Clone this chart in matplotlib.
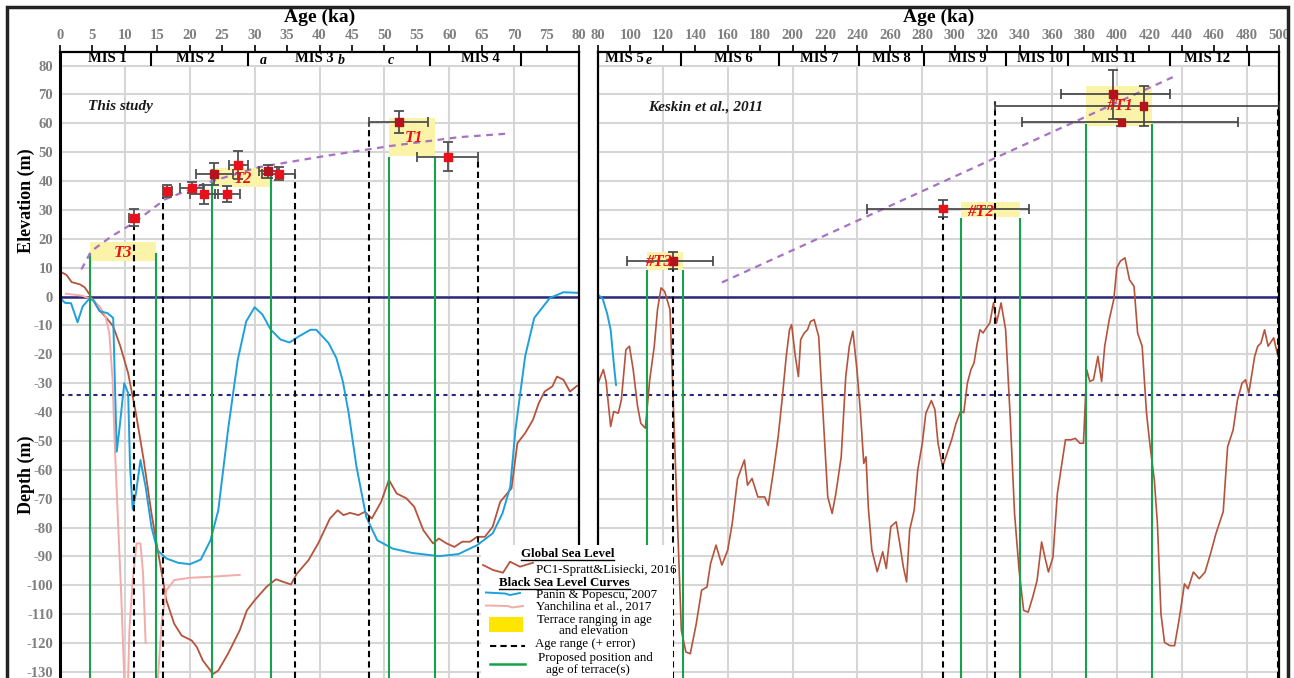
import numpy as np
import matplotlib
matplotlib.use("Agg")
import matplotlib.pyplot as plt
from matplotlib.patches import Rectangle

plt.rcParams['font.family'] = ['Liberation Serif', 'DejaVu Serif']

nan = np.nan

# ---- global sea level (PC1 Spratt & Lisiecki 2016) ----
brown_left_age = [0, 1.0, 1.8, 3.1, 3.8, 4.6, 5.8, 7.3, 8.2, 9.3, 10.5, 11.7, 12.9, 14.1, 15.25,
                  16.4, 17.6, 18.75, 20.3, 21.1, 22.0, 23.6, 24.4, 25.9, 27.7, 28.8, 30.0, 31.8,
                  33.3, 34.4, 35.6, 36.5, 38.3, 39.8, 41.6, 42.8, 43.7, 44.7, 46.0, 47.0, 48.05,
                  49.5, 50.7, 51.9, 53.4, 54.6, 56.0, 57.5, 58.4, 59.6, 60.8, 62.0, 63.2, 64.3,
                  65.5, 66.7, 67.85, 69.6, 70.5, 71.7, 72.9, 73.8, 74.7, 75.9, 76.6, 77.6, 78.6, 79.7]
brown_left_m = [8.7, 7.5, 5.0, 4.2, 3.2, 0.6, -3.9, -7.8, -10.3, -17.2, -26.5, -40.4, -56.6, -75.1,
                -90.2, -105.2, -113.3, -117.4, -119.1, -121.4, -126, -130.7, -129.5, -123.7, -115.6,
                -108.7, -105.2, -100.6, -97.9, -98.8, -99.7, -96, -91.3, -85.5, -76.9, -74, -75.7,
                -74.9, -75.7, -74.5, -76.9, -71.1, -63.5, -68.2, -69.9, -72.8, -80.9, -85.5, -83.8,
                -85.5, -86.7, -84.9, -84.9, -83.2, -83.2, -79.7, -71.1, -66.4, -50.8, -47.3, -42.7,
                -36.9, -32.9, -31.1, -27.7, -28.8, -32.9, -30.9]

brown_right_age = [80, 83.3, 85, 87.8, 89.7, 92.5, 94.4, 97.2, 99.4, 101.7, 104.4, 106.4, 109.2,
                   111.9, 114.7, 116.7, 118.9, 121.1, 124.4, 127.2, 129.2, 131.4, 134.2, 136.9,
                   140.6, 143.9, 147.2, 149.4, 152.8, 156.4, 160, 162.8, 166.1, 170.3, 172.2, 175,
                   178.6, 182.8, 185, 188.3, 191.1, 193.3, 196.1, 198.1, 199.4, 201.7, 203.6, 205,
                   207.2, 209.2, 211.1, 213.3, 216.1, 218.9, 221.7, 224.4, 226.7, 230, 232.8, 235,
                   237.2, 239.7, 241.9, 243.9, 245.3, 246.7, 248.9, 252.2, 255.6, 257.8, 260.6,
                   263.9, 266.1, 268.3, 270.3, 272.2, 275, 277.2, 280, 282.2, 285.6, 287.8, 289.7,
                   292.5, 295.3, 298.1, 300.8, 303.6, 305.6, 307.8, 310, 311.9, 313.9, 315.6, 317.5,
                   319.4, 321.7, 323.9, 325.8, 328.6, 331.4, 334.2, 336.9, 339.7, 342.5, 345.3,
                   348.1, 350.8, 353.6, 355.6, 357.8, 360.6, 363.3, 366.1, 368.3, 371.7, 374.4,
                   377.2, 379.4, 381.4, 383.3, 385.6, 388.3, 390.6, 392.5, 395.3, 398.1, 400,
                   402.2, 405, 407.8, 410.6, 412.8, 415.6, 418.3, 420.3, 423.1, 425, 427.2, 429.4,
                   432.8, 435.6, 438.3, 441.7, 443.9, 447.2, 450.8, 454.4, 457.8, 461.1, 465.6,
                   468.3, 471.7, 474.4, 477.2, 479.4, 481.4, 485, 486.9, 488.9, 491.1, 493.3,
                   496.7, 499.4]
brown_right_m = [-30, -25.3, -29.4, -45, -39.8, -40.4, -35.8, -18.4, -17.2, -25.3, -38, -43.9,
                 -45.6, -28.8, -17.2, -4.5, 3, 1.8, -4.5, -49.6, -81, -115.6, -123.1, -123.7,
                 -113.3, -101.7, -100.6, -92.5, -86.1, -93, -87.8, -78.5, -63, -56.6, -65.3, -63,
                 -69.4, -69.4, -72.3, -60.1, -48.6, -37, -20.7, -11.5, -9.7, -20.7, -27.7, -14.9,
                 -12.6, -11.5, -8.6, -8, -13.8, -41.6, -69.4, -75.1, -68.2, -55.5, -27.7, -17.2,
                 -12, -25.3, -40.4, -57.8, -55.5, -72.9, -87.8, -95.3, -88.4, -94.2, -79.7, -78,
                 -85.5, -93.6, -98.8, -80.9, -74, -60.1, -50.8, -40.4, -36, -39.2, -50.8, -58.9,
                 -54.3, -49.6, -43.9, -39.8, -40.2, -30, -25.3, -23, -16.1, -11.5, -12.6, -10.9,
                 -9.1, -2.2, -9.1, -2.2, -11.5, -41.6, -75.1, -94.8, -108.7, -109.3, -104.1, -98.3,
                 -85, -90.2, -95.4, -90.2, -68.2, -57.8, -49.6, -49.6, -49.1, -50.8, -50.8, -25.3,
                 -29.4, -28.8, -20.7, -29.4, -17.2, -8, -1, 10, 12.3, 13.4, 5.8, 3.5, -12.6, -17.2,
                 -40.4, -50.8, -63.5, -78.5, -109.9, -119.8, -120.9, -120.9, -112.2, -99.5, -101.2,
                 -95.4, -97.7, -95.4, -89, -82.1, -74.5, -52, -46.2, -35.8, -30, -28.8, -33.4,
                 -20.7, -17.2, -16.1, -11.5, -17.2, -14.3, -20.7]

# ---- Black Sea curves ----
blue_left_age = [0, 0.8, 1.7, 2.7, 3.5, 4.5, 5.2, 6.1, 7.3, 8.2, 8.45, 8.75, 9.2, 9.9, 10.5, 10.8,
                 11.2, 11.7, 12.4, 13.2, 14.1, 15.0, 16.4, 18.2, 20.0, 21.7, 23.2, 24.4, 25.9, 27.4,
                 28.7, 30.0, 31.2, 32.5, 34.0, 35.4, 36.8, 38.6, 39.5, 41.4, 42.6, 43.6, 44.5, 45.7,
                 47.2, 48.9, 51.3, 54.3, 58.4, 61.4, 64.3, 66.7, 68.2, 69.4, 70.2, 71.7, 73.1, 75.5,
                 77.6, 79.7]
blue_left_m = [-0.5, -2.2, -2.3, -8.9, -3.4, -0.8, -1.3, -5.1, -5.7, -7.4, -28.8, -53.7, -45, -30,
               -33.4, -58.9, -73.7, -68.2, -56.6, -65.9, -79.8, -87.8, -90.7, -92.2, -92.7, -91.1,
               -84.4, -74, -46.2, -21.9, -8.6, -3.7, -6.2, -11.5, -14.9, -15.9, -13.8, -11.5,
               -11.5, -16.1, -21.3, -29.4, -40.4, -58.9, -76.3, -84.4, -87.3, -88.8, -89.9, -89.2,
               -86.1, -82, -75.1, -65.9, -46.2, -20.7, -7.4, -0.5, 1.5, 1.3]
blue_right_age = [80, 82.8, 85.6, 87.8, 89.7, 91.1]
blue_right_m = [0.6, -0.6, -5.8, -11.5, -23, -30.6]

pink_age = [0.9, 3.4, 4.9, 6.1, 7.0, 7.6, 8.1, 8.45, 9.0, 9.45, 9.9, nan,
            10.5, 10.7, 11.2, 11.8, 12.4, 12.8, 13.2, nan,
            15.1, 15.7, 16.4, 17.6, 20.0, 23.5, 27.7]
pink_m = [1, 0.3, -0.9, -3.4, -6.8, -12.6, -28.8, -51.9, -80.9, -104, -131.8, nan,
          -131.8, -115.6, -98.3, -85.5, -85.5, -95.8, -120, nan,
          -131.8, -112.2, -101.7, -98.2, -97.4, -97, -96.4]

# ---- terrace trend lines ----
trend_left_age = [3.3, 4.8, 7.9, 11.5, 16.2, 22.9, 30.6, 40.9, 51.1, 61.5, 69.4]
trend_left_m = [9.4, 15.7, 20.8, 25.7, 33.7, 39.6, 44.8, 48.7, 52.2, 55.2, 56.5]
trend_right_age = [156.4, 434.5]
trend_right_m = [4.9, 76]

# ---- dated samples ----
pts_left_age = [11.4, 16.5, 20.3, 22.2, 23.8, 25.8, 27.5, 32.0, 33.7, 52.2, 59.8]
pts_left_m = [27.3, 36.6, 37.7, 35.5, 42.5, 35.5, 45.6, 43.4, 42.5, 60.5, 48.4]
pts_left_age_err = [0.8, 0.7, 1.8, 2.2, 2.8, 1.9, 1.5, 1.4, 2.6, 4.5, 4.7]
pts_left_m_err = [2.9, 2.0, 1.9, 3.3, 3.9, 2.9, 4.9, 2.2, 2.3, 3.9, 5.0]
pts_left_dark = [0, 0, 0, 0, 1, 0, 0, 1, 0, 1, 0]

pts_right_age = [126.1, 292.9, 397.6, 416.5, 402.8]
pts_right_m = [12.4, 30.5, 70.1, 65.9, 60.3]
pts_right_age_lo = [28.0, 46.9, 32.2, 91.5, 61.3]
pts_right_age_hi = [24.7, 52.9, 35.0, 84.0, 71.9]
pts_right_m_err = [2.9, 3.0, 8.5, 7.0, 1.3]
pts_right_dark = [1, 0, 1, 1, 1]

# ---- terraces: age min, age max, elev min, elev max ----
terr_left = [(4.7, 14.8, 12.4, 18.8), (23.4, 32.5, 38.0, 44.4), (50.7, 57.8, 48.7, 62.0)]
terr_left_names = ['T3', 'T2', 'T1']
terr_left_lab = [(9.7, 15.0), (28.2, 40.8), (54.5, 54.9)]
terr_right = [(110.1, 132.3, 9.3, 15.3), (303.6, 340.4, 27.5, 32.9), (381.0, 421.7, 59.0, 72.9)]
terr_right_names = ['#T3', '#T2', '#T1']
terr_right_lab = [(117.3, 12.1), (315.6, 29.3), (401.8, 66.0)]

green_left_age = [4.7, 14.8, 23.4, 32.5, 50.7, 57.8]
green_left_top = [15, 15, 44.2, 44.2, 48.5, 48.5]
green_right_age = [110.1, 132.3, 303.6, 340.4, 381.0, 421.7]
green_right_top = [9.2, 9.2, 27.3, 27.3, 59.9, 59.9]

dash_left_age = [11.4, 15.8, 36.3, 47.7, 64.4]
dash_left_top = [24.4, 34.6, 42.4, 60.5, 48.4]
dash_right_age = [126.1, 292.9, 325.0, 499.6]
dash_right_top = [9.5, 27.5, 67.4, 66.0]

# ---- MIS stages ----
mis_left_bounds = [14, 29, 57, 71]
mis_left_labels = [('MIS 1', 7.3), ('MIS 2', 20.8), ('MIS 3', 39.2), ('MIS 4', 64.8)]
mis_left_sub = [('a', 31.3), ('b', 43.4), ('c', 51.0)]
mis_right_bounds = [131.3, 191.8, 240.8, 281, 331.7, 369.7, 432.7, 481.5]
mis_right_labels = [('MIS 5', 96.5), ('MIS 6', 163.4), ('MIS 7', 216.5), ('MIS 8', 261),
                    ('MIS 9', 308), ('MIS 10', 352.4), ('MIS 11', 398), ('MIS 12', 455.5)]
mis_right_sub = [('e', 111.5)]

left_ticks = list(range(0, 81, 5))
right_ticks = list(range(80, 501, 20))
y_ticks = list(range(-130, 81, 10))

BROWN = '#b5533c'
BLUE = '#1ea0dc'
PINK = '#f5aaaa'
PURPLE = '#a872c4'
GREEN = '#16a24a'
NAVY = '#2d2a7c'
GRID = '#d6d6d6'
YELLOW = '#fbf3a8'
RED = '#e8101a'
DARKRED = '#b5121b'
GRAY = '#7f7f7f'

W, H = 1294, 678
fig = plt.figure(figsize=(W / 100, H / 100), dpi=100)

ytop, ybot = 84.7, -132.1
axh = (H - 52) / H
axL = fig.add_axes([60 / W, 0, 519 / W, axh])
axR = fig.add_axes([598 / W, 0, 681 / W, axh])


def style_axis(ax, x0, x1, xticks, gridx):
    ax.set_xlim(x0, x1)
    ax.set_ylim(ybot, ytop)
    for y in y_ticks:
        ax.axhline(y, color=GRID, lw=1.5, zorder=0)
    ax.vlines(gridx, ybot, 80, color=GRID, lw=1.5, zorder=0)
    ax.xaxis.tick_top()
    ax.set_xticks(xticks)
    ax.set_xticklabels([str(t) for t in xticks])
    ax.tick_params(axis='x', direction='out', length=5, width=1.2, pad=2,
                   labelsize=10.5, labelcolor=GRAY)
    for lab in ax.get_xticklabels():
        lab.set_fontweight('bold')
    ax.spines['bottom'].set_visible(False)
    for s in ['top', 'left', 'right']:
        ax.spines[s].set_linewidth(1.6)
        ax.spines[s].set_color('black')
    ax.axhline(0, color=NAVY, lw=1.8, zorder=2)
    ax.axhline(-34, color=NAVY, lw=1.5, ls=(0, (2, 2)), zorder=2)


style_axis(axL, 0, 80, left_ticks, list(range(10, 80, 10)))
style_axis(axR, 80, 500, right_ticks, list(range(120, 500, 40)))

axL.set_yticks(y_ticks)
axL.set_yticklabels([str(t) for t in y_ticks])
axL.tick_params(axis='y', length=0, pad=5, labelsize=10.5, labelcolor=GRAY)
for lab in axL.get_yticklabels():
    lab.set_fontweight('bold')
axL.spines['left'].set_linewidth(2.2)
axR.set_yticks([])

# MIS band
for ax, bounds, labels, subs in [(axL, mis_left_bounds, mis_left_labels, mis_left_sub),
                                 (axR, mis_right_bounds, mis_right_labels, mis_right_sub)]:
    ax.vlines(bounds, 80, ytop, color='black', lw=1.5, zorder=3)
    for txt, x in labels:
        ax.text(x, 82.3, txt, ha='center', va='center', fontsize=10.5, fontweight='bold', zorder=6)
    for txt, x in subs:
        ax.text(x, 81.8, txt, ha='center', va='center', fontsize=10, fontweight='bold',
                style='italic', zorder=6)

# curves
axL.plot(brown_left_age, brown_left_m, color=BROWN, lw=1.3, zorder=2)
axR.plot(brown_right_age, brown_right_m, color=BROWN, lw=1.2, zorder=2)
axL.plot(pink_age, pink_m, color=PINK, lw=1.4, zorder=2)
axL.plot(blue_left_age, blue_left_m, color=BLUE, lw=1.4, zorder=2)
axR.plot(blue_right_age, blue_right_m, color=BLUE, lw=1.4, zorder=2)

# terraces
for ax, terr, names, labs in [(axL, terr_left, terr_left_names, terr_left_lab),
                              (axR, terr_right, terr_right_names, terr_right_lab)]:
    for (a0, a1, m0, m1), name, (lx, ly) in zip(terr, names, labs):
        ax.add_patch(Rectangle((a0, m0), a1 - a0, m1 - m0, facecolor=YELLOW, edgecolor='none',
                               zorder=1))
        ax.text(lx, ly, name, color=RED, fontsize=12, fontweight='bold', style='italic',
                ha='center', va='center', zorder=7)

axL.vlines(green_left_age, ybot, green_left_top, color=GREEN, lw=1.5, zorder=3)
axR.vlines(green_right_age, ybot, green_right_top, color=GREEN, lw=1.5, zorder=3)
axL.vlines(dash_left_age, ybot, dash_left_top, color='black', lw=1.5, ls=(0, (3, 2)), zorder=3)
axR.vlines(dash_right_age, ybot, dash_right_top, color='black', lw=1.5, ls=(0, (3, 2)), zorder=3)

axL.plot(trend_left_age, trend_left_m, color=PURPLE, lw=1.6, ls=(0, (3, 2.5)), zorder=3)
axR.plot(trend_right_age, trend_right_m, color=PURPLE, lw=1.6, ls=(0, (3, 2.5)), zorder=3)

# samples
axL.errorbar(pts_left_age, pts_left_m, xerr=pts_left_age_err, yerr=pts_left_m_err, fmt='none',
             ecolor='#505050', elinewidth=1.3, capsize=3.5, capthick=1.3, zorder=4)
axL.scatter(pts_left_age, pts_left_m, marker='s', s=34,
            c=[DARKRED if d else RED for d in pts_left_dark], zorder=5)
axR.errorbar(pts_right_age, pts_right_m, xerr=[pts_right_age_lo, pts_right_age_hi],
             yerr=pts_right_m_err, fmt='none', ecolor='#404040', elinewidth=1.2, capsize=3.5,
             capthick=1.2, zorder=4)
axR.scatter(pts_right_age, pts_right_m, marker='s', s=30,
            c=[DARKRED if d else RED for d in pts_right_dark], zorder=5)

axL.text(4.3, 65.8, 'This study', fontsize=11, fontweight='bold', style='italic',
         ha='left', va='center', color='#1a1a1a', zorder=6)
axR.text(110.7, 65.8, 'Keskin et al., 2011', fontsize=11, fontweight='bold', style='italic',
         ha='left', va='center', color='#1a1a1a', zorder=6)

# titles and axis labels
fig.text(319.5 / W, 1 - 17 / H, 'Age (ka)', ha='center', va='center', fontsize=14,
         fontweight='bold')
fig.text(938.5 / W, 1 - 17 / H, 'Age (ka)', ha='center', va='center', fontsize=14,
         fontweight='bold')
fig.text(26 / W, 1 - 201 / H, 'Elevation (m)', rotation=90, ha='center', va='center',
         fontsize=13, fontweight='bold')
fig.text(26 / W, 1 - 475 / H, 'Depth (m)', rotation=90, ha='center', va='center',
         fontsize=13, fontweight='bold')

# legend drawn in pixel coordinates of the figure
lg = fig.add_axes([481 / W, 0, (673 - 481) / W, (678 - 545) / H], zorder=10)
lg.set_xlim(481, 673)
lg.set_ylim(678, 545)
lg.set_facecolor('white')
lg.set_xticks([])
lg.set_yticks([])
for s in lg.spines.values():
    s.set_visible(False)
fs = 9.3


def header(x, y, txt):
    t = lg.text(x, y, txt, ha='center', va='center', fontsize=fs, fontweight='bold')
    fig.canvas.draw()
    bb = t.get_window_extent().transformed(lg.transData.inverted())
    lg.plot([bb.x0, bb.x1], [y + 5.5, y + 5.5], color='black', lw=1)


header(567.5, 554, 'Global Sea Level')
lg.plot([483, 493, 503, 510, 520, 533], [565, 570, 572.7, 561.7, 566.7, 562.7], color=BROWN, lw=1.3)
lg.text(535.7, 570, 'PC1-Spratt&Lisiecki, 2016', fontsize=fs, va='center')
header(564.3, 583.3, 'Black Sea Level Curves')
lg.plot([486, 505, 510, 520], [592.5, 593.5, 595, 593], color=BLUE, lw=1.4)
lg.text(535.7, 595, 'Panin & Popescu, 2007', fontsize=fs, va='center')
lg.plot([486, 508, 512, 523], [605.5, 606, 607.5, 606], color=PINK, lw=1.4)
lg.text(535.7, 607.2, 'Yanchilina et al., 2017', fontsize=fs, va='center')
lg.add_patch(Rectangle((489.3, 617.3), 34, 14.4, facecolor='#ffe600', edgecolor='none'))
lg.text(594, 619.5, 'Terrace ranging in age', fontsize=fs, va='center', ha='center')
lg.text(593.3, 631.5, 'and elevation', fontsize=fs, va='center', ha='center')
lg.plot([490, 525], [646, 646], color='black', lw=1.5, ls=(0, (3, 2)))
lg.text(535, 644.3, 'Age range (+ error)', fontsize=fs, va='center')
lg.plot([490, 525], [664, 664], color=GREEN, lw=1.8)
lg.text(595.3, 657.5, 'Proposed position and', fontsize=fs, va='center', ha='center')
lg.text(588.3, 669.5, 'age of terrace(s)', fontsize=fs, va='center', ha='center')

# outer frame
fig.patches.append(Rectangle((7 / W, -0.05), (1288 - 7) / W, 1.05 - 7 / H, transform=fig.transFigure,
                             fill=False, edgecolor='#222222', lw=2.5, zorder=20))

fig.savefig('out.png', dpi=100, facecolor='white')
